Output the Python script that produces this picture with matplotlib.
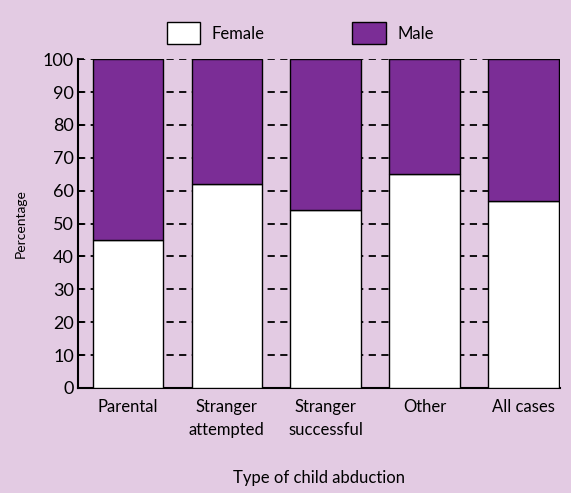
import numpy as np
import matplotlib.pyplot as plt

categories = ['Parental', 'Stranger\nattempted', 'Stranger\nsuccessful', 'Other', 'All cases']
female = [45, 62, 54, 65, 57]
male = [100 - f for f in female]

bg = '#e3cbe3'
purple = '#7b2d96'

plt.rcParams['font.family'] = ['Lato', 'DejaVu Sans']

fig = plt.figure(figsize=(5.71, 4.93), dpi=100, facecolor=bg)
ax = fig.add_axes([0.137, 0.213, 0.844, 0.667])
ax.set_facecolor(bg)

x = np.arange(len(categories))
ax.bar(x, female, width=0.71, color='white', edgecolor='black', linewidth=1, label='Female', zorder=3)
ax.bar(x, male, width=0.71, bottom=female, color=purple, edgecolor='black', linewidth=1, label='Male', zorder=3)

ax.set_xlim(-0.5, 4.37)
ax.set_ylim(0, 100)
ax.set_yticks(np.arange(0, 101, 10))
ax.yaxis.grid(True, linestyle=(0, (4, 3)), color='black', linewidth=1.3, zorder=0)
ax.set_xticks(x)
ax.set_xticklabels(categories, fontsize=12, linespacing=1.5)
ax.tick_params(axis='y', labelsize=13, direction='in', length=4, width=1.2, pad=3)
ax.tick_params(axis='x', length=0, pad=8)
for s in ['top', 'right']:
    ax.spines[s].set_visible(False)
for s in ['left', 'bottom']:
    ax.spines[s].set_linewidth(1.5)

ax.set_ylabel('Percentage', fontsize=10, labelpad=12)
ax.set_xlabel('Type of child abduction', fontsize=12, labelpad=23)

fig.legend(loc='upper center', bbox_to_anchor=(0.526, 0.985), ncol=2, frameon=False,
           fontsize=12, handlelength=2.0, handleheight=1.6, columnspacing=5.25, handletextpad=0.7)

fig.savefig('out.png', dpi=100, facecolor=bg)
